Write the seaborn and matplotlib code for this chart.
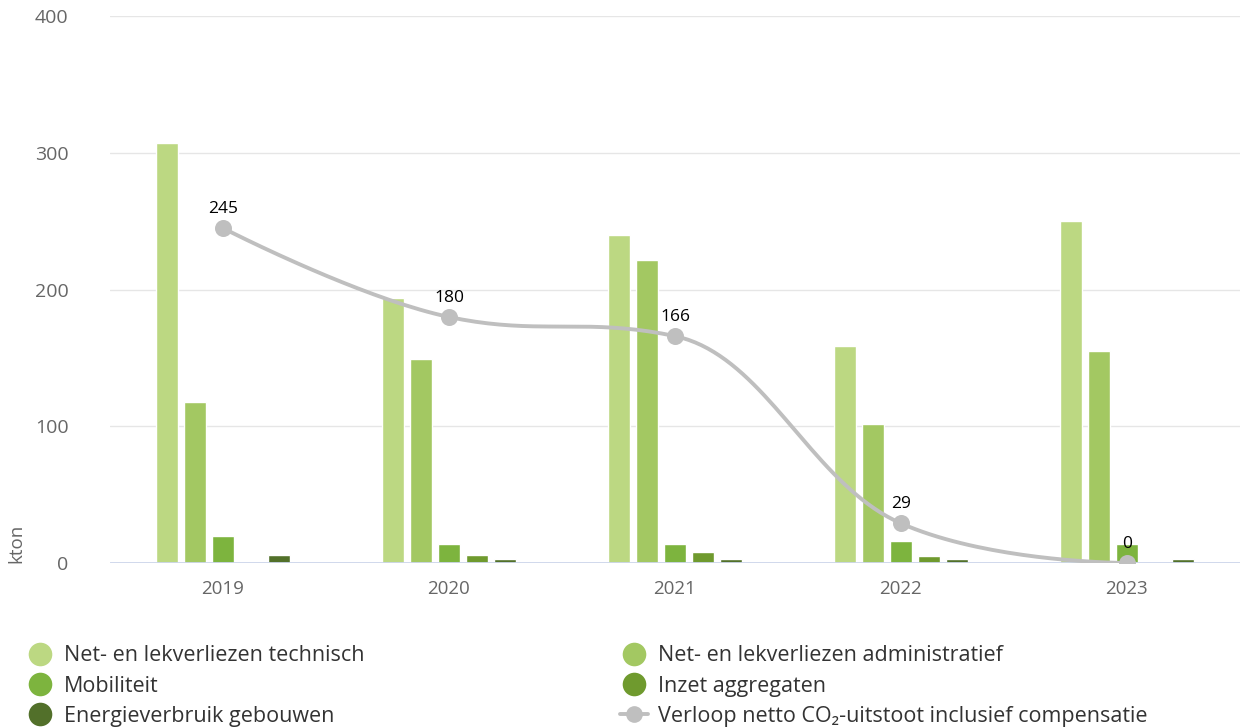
import numpy as np
import pandas as pd
import matplotlib
matplotlib.use("Agg")
import matplotlib.pyplot as plt
from matplotlib.lines import Line2D
import seaborn as sns

# data
years = ["2019", "2020", "2021", "2022", "2023"]
series = [
    "Net- en lekverliezen technisch",
    "Net- en lekverliezen administratief",
    "Mobiliteit",
    "Inzet aggregaten",
    "Energieverbruik gebouwen",
]
technisch = [307, 194, 240, 159, 250]
administratief = [118, 149, 222, 102, 155]
mobiliteit = [20, 14, 14, 16, 14]
aggregaten = [0, 6, 8, 5, 0]
gebouwen = [6, 3, 3, 3, 3]
netto = [245, 180, 166, 29, 0]
line_label = "Verloop netto CO\u2082-uitstoot inclusief compensatie"

colors = ["#bcd882", "#a3c862", "#7db43e", "#6f9a2e", "#52702a"]
line_color = "#bfbfbf"

sns.set_theme(style="white")
plt.rcParams["font.family"] = ["Open Sans", "DejaVu Sans"]

rows = []
for name, vals in zip(series, [technisch, administratief, mobiliteit, aggregaten, gebouwen]):
    for y, v in zip(years, vals):
        rows.append({"jaar": y, "reeks": name, "kton": v})
df = pd.DataFrame(rows)

fig = plt.figure(figsize=(12.43, 7.27), dpi=100)
ax = fig.add_axes([0.0885, 0.2256, 0.909, 0.752])

sns.barplot(data=df, x="jaar", y="kton", hue="reeks", hue_order=series,
            palette=colors, saturation=1, width=0.62, gap=0.2,
            edgecolor="white", linewidth=1, ax=ax, legend=False, zorder=2)


# highcharts-style spline through the line points
def spline_path(xs, ys, smoothing=1.5, n=40):
    xs = np.asarray(xs, float)
    ys = np.asarray(ys, float)
    m = len(xs)
    lcx, lcy, rcx, rcy = xs.copy(), ys.copy(), xs.copy(), ys.copy()
    d = smoothing + 1
    for i in range(1, m - 1):
        px, py = xs[i], ys[i]
        lx, ly = xs[i - 1], ys[i - 1]
        nx, ny = xs[i + 1], ys[i + 1]
        lcx_i = (smoothing * px + lx) / d
        lcy_i = (smoothing * py + ly) / d
        rcx_i = (smoothing * px + nx) / d
        rcy_i = (smoothing * py + ny) / d
        corr = ((rcy_i - lcy_i) * (rcx_i - px)) / (rcx_i - lcx_i) + py - rcy_i
        lcy_i += corr
        rcy_i += corr
        if lcy_i > ly and lcy_i > py:
            lcy_i = max(ly, py)
            rcy_i = 2 * py - lcy_i
        elif lcy_i < ly and lcy_i < py:
            lcy_i = min(ly, py)
            rcy_i = 2 * py - lcy_i
        if rcy_i > ny and rcy_i > py:
            rcy_i = max(ny, py)
            lcy_i = 2 * py - rcy_i
        elif rcy_i < ny and rcy_i < py:
            rcy_i = min(ny, py)
            lcy_i = 2 * py - rcy_i
        lcx[i], lcy[i], rcx[i], rcy[i] = lcx_i, lcy_i, rcx_i, rcy_i
    t = np.linspace(0, 1, n)[:, None]
    px_all, py_all = [], []
    for i in range(1, m):
        P = np.array([[xs[i - 1], ys[i - 1]], [rcx[i - 1], rcy[i - 1]],
                      [lcx[i], lcy[i]], [xs[i], ys[i]]])
        B = ((1 - t) ** 3) * P[0] + 3 * ((1 - t) ** 2) * t * P[1] \
            + 3 * (1 - t) * t ** 2 * P[2] + t ** 3 * P[3]
        px_all.append(B[:, 0])
        py_all.append(B[:, 1])
    return np.concatenate(px_all), np.concatenate(py_all)


xpos = np.arange(len(years))
cx, cy = spline_path(xpos, netto)
ax.plot(cx, cy, color=line_color, lw=2.8, zorder=4, solid_capstyle="round")
ax.scatter(xpos, netto, s=150, color=line_color, zorder=5, linewidths=0)
for x, v in zip(xpos, netto):
    ax.annotate(str(v), (x, v), xytext=(0, 8), textcoords="offset points",
                ha="center", va="bottom", fontsize=12.5, color="#000000", zorder=6)

ax.set_xlim(-0.5, 4.5)
ax.set_ylim(0, 400)
ax.set_yticks([0, 100, 200, 300, 400])
ax.grid(axis="y", color="#e6e6e6", lw=1, zorder=0)
ax.set_axisbelow(True)
ax.axhline(0, color="#ccd6eb", lw=2, zorder=3)
for s in ax.spines.values():
    s.set_visible(False)
ax.tick_params(axis="y", length=0, labelsize=14, labelcolor="#666666", pad=30)
ax.tick_params(axis="x", length=0, labelsize=13.5, labelcolor="#666666", pad=12)
ax.set_xlabel("")
ax.set_ylabel("kton", fontsize=13.5, color="#666666")
ax.yaxis.set_label_coords(-0.075, 0.035)

handles = []
order = [0, 2, 4, 1, 3]
for i in order:
    handles.append(Line2D([], [], marker="o", ls="none", markersize=17,
                          markerfacecolor=colors[i], markeredgewidth=0,
                          label=series[i]))
handles.append(Line2D([], [], marker="o", color=line_color, lw=2.8,
                      markersize=11, label=line_label))
fig.legend(handles=handles, ncol=2, loc="upper left",
           bbox_to_anchor=(0.014, 0.124), frameon=False, fontsize=15.5,
           handlelength=1.3, handletextpad=0.45, labelspacing=0.42,
           columnspacing=11.9, labelcolor="#333333", borderaxespad=0)

fig.savefig("out.png", dpi=100)
